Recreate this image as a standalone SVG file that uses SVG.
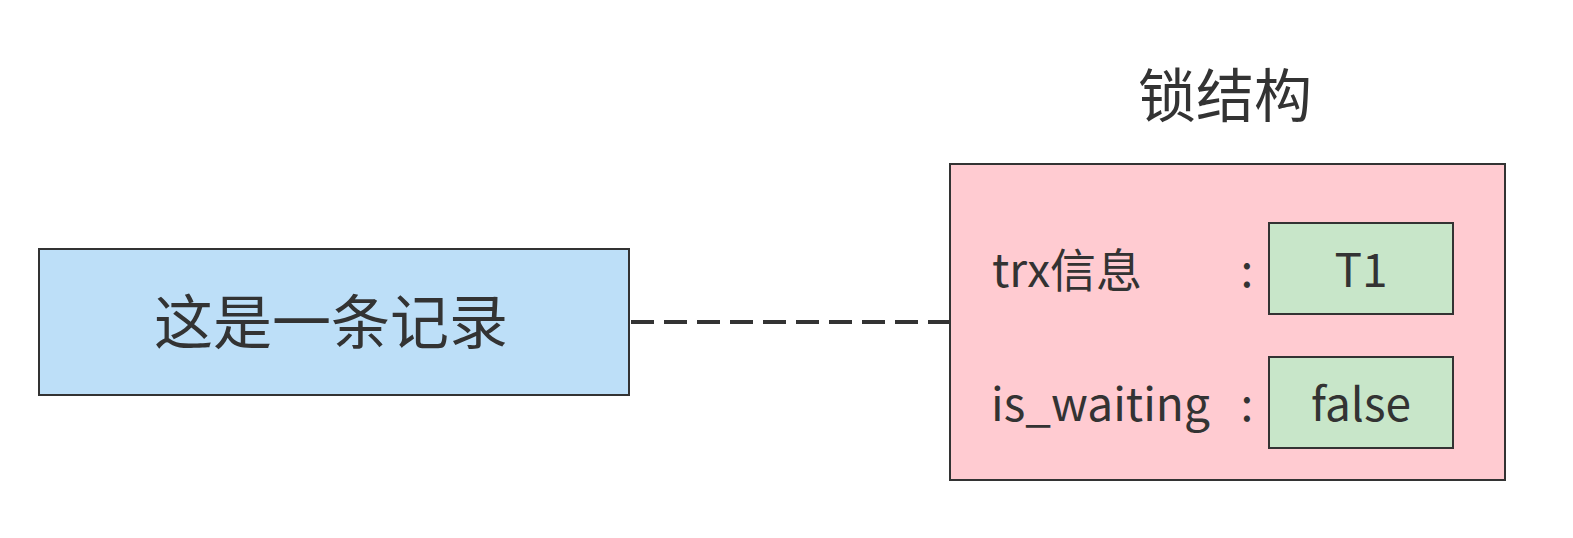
<svg xmlns="http://www.w3.org/2000/svg" width="1573" height="538" viewBox="0 0 1573 538">
  <style>
    .box { stroke: #333333; stroke-width: 2; }
    .rec { fill: #bddff8; }
    .lock { fill: #ffcbd1; }
    .val { fill: #c8e6c9; }
    .txt { font-family: "Noto Sans CJK SC", "Noto Sans", sans-serif; fill: #333333; }
    .big { font-size: 59px; }
    .title { font-size: 58px; }
    .mid { font-size: 46px; }
    .link { stroke: #333333; stroke-width: 4; stroke-dasharray: 23 10; fill: none; }
  </style>
  <rect width="1573" height="538" fill="#ffffff"/>

  <!-- connector between record and lock structure -->
  <g id="connectors">
    <line class="link" x1="631" y1="322" x2="949" y2="322"/>
  </g>

  <!-- record -->
  <g id="record">
    <rect class="box rec" x="39" y="249" width="590" height="146"/>
    <text class="txt big" x="331" y="344" text-anchor="middle">这是一条记录</text>
  </g>

  <!-- lock structure -->
  <g id="lock">
    <text class="txt title" x="1225" y="117" text-anchor="middle">锁结构</text>
    <rect class="box lock" x="950" y="164" width="555" height="316"/>
    <text class="txt mid" x="992" y="287">trx信息</text>
    <text class="txt mid" x="1247" y="287" text-anchor="middle">:</text>
    <text class="txt mid" x="991" y="421">is_waiting</text>
    <text class="txt mid" x="1247" y="421" text-anchor="middle">:</text>
  </g>

  <g id="trx-value">
    <rect class="box val" x="1269" y="223" width="184" height="91"/>
    <text class="txt mid" x="1361" y="287" text-anchor="middle">T1</text>
  </g>

  <g id="waiting-value">
    <rect class="box val" x="1269" y="357" width="184" height="91"/>
    <text class="txt mid" x="1361" y="421" text-anchor="middle">false</text>
  </g>
</svg>
